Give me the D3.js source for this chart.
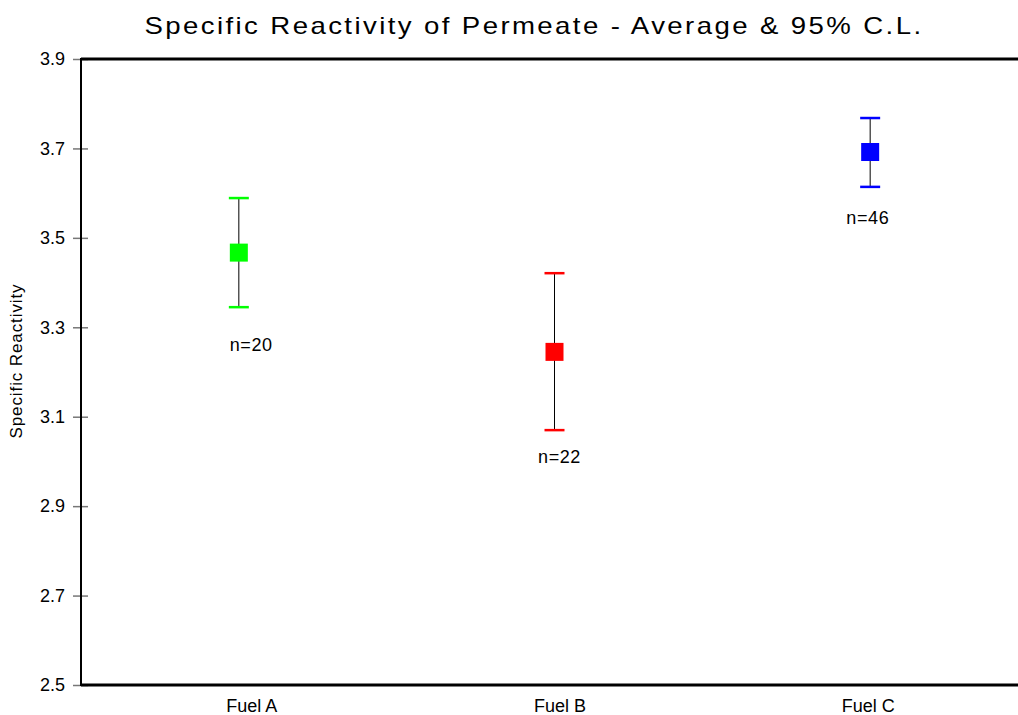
<!DOCTYPE html>
<html>
<head>
<meta charset="utf-8">
<script src="https://cdn.jsdelivr.net/npm/d3@7"></script>
<style>
  body { margin: 0; background: #fff; }
  svg { display: block; font-family: "Liberation Sans", Arial, sans-serif; }
</style>
</head>
<body>
<svg width="1018" height="715"></svg>
<script>
const categories = ['Fuel A', 'Fuel B', 'Fuel C'];
const means = [3.467, 3.245, 3.692];
const lower = [3.345, 3.070, 3.614];
const upper = [3.589, 3.421, 3.768];
const counts = [20, 22, 46];
const countLabelAt = [3.26, 3.01, 3.544];
const colors = ['#00ff00', '#ff0000', '#0000ff'];
const yTicks = [2.5, 2.7, 2.9, 3.1, 3.3, 3.5, 3.7, 3.9];

const plotLeft = 81, plotTop = 59, plotBottom = 685, plotRight = 1028;

const svg = d3.select('svg');

const x = d3.scalePoint()
  .domain(categories)
  .range([plotLeft, plotRight])
  .padding(0.5);

// the category labels sit slightly off the markers in the original
const xLabel = d3.scalePoint()
  .domain(categories)
  .range([97, 1022])
  .padding(0.5);

const y = d3.scaleLinear()
  .domain([2.5, 3.9])
  .range([plotBottom, plotTop]);

// title (wide glyphs, stretched a bit)
svg.append('text')
  .attr('transform', 'translate(534,34) scale(1.2,1)')
  .attr('text-anchor', 'middle')
  .style('font-size', '23px')
  .style('letter-spacing', '2px')
  .text('Specific Reactivity of Permeate - Average & 95% C.L.');

// y axis
const yAxis = svg.append('g')
  .attr('transform', `translate(${plotLeft},0)`)
  .call(d3.axisLeft(y).tickValues(yTicks).tickFormat(d3.format('.1f')).tickSizeInner(8).tickSizeOuter(0));
yAxis.select('.domain').remove();
yAxis.selectAll('.tick line').attr('x2', 7).attr('x1', -8).attr('stroke', '#777').attr('stroke-width', 1.5);
yAxis.selectAll('.tick text').attr('x', -16).style('font-size', '18px').attr('fill', '#000');

// frame
svg.append('line').attr('x1', plotLeft).attr('x2', plotLeft).attr('y1', plotTop - 1).attr('y2', plotBottom + 1)
  .attr('stroke', '#000').attr('stroke-width', 2);
svg.append('line').attr('x1', plotLeft).attr('x2', 1018).attr('y1', plotTop).attr('y2', plotTop)
  .attr('stroke', '#000').attr('stroke-width', 3);
svg.append('line').attr('x1', plotLeft).attr('x2', 1018).attr('y1', plotBottom).attr('y2', plotBottom)
  .attr('stroke', '#000').attr('stroke-width', 3);

// x axis labels
const xAxis = svg.append('g')
  .attr('transform', `translate(0,${plotBottom})`)
  .call(d3.axisBottom(xLabel).tickSize(0).tickPadding(14));
xAxis.select('.domain').remove();
xAxis.selectAll('.tick text').style('font-size', '18px').attr('fill', '#000');

// y title
svg.append('text')
  .attr('transform', 'translate(22,361) rotate(-90)')
  .attr('text-anchor', 'middle')
  .style('font-size', '17px')
  .style('letter-spacing', '0.9px')
  .text('Specific Reactivity');

const pts = categories.map((c, i) => ({ c, m: means[i], lo: lower[i], hi: upper[i], n: counts[i], ny: countLabelAt[i], col: colors[i] }));

const g = svg.append('g');
const item = g.selectAll('g.pt').data(pts).enter().append('g').attr('class', 'pt');

item.append('line')
  .attr('x1', d => x(d.c)).attr('x2', d => x(d.c))
  .attr('y1', d => y(d.hi)).attr('y2', d => y(d.lo))
  .attr('stroke', '#000').attr('stroke-width', 1);

item.selectAll('line.cap')
  .data(d => [{ c: d.c, v: d.hi, col: d.col }, { c: d.c, v: d.lo, col: d.col }])
  .enter().append('line')
  .attr('class', 'cap')
  .attr('x1', d => x(d.c) - 10).attr('x2', d => x(d.c) + 10)
  .attr('y1', d => y(d.v)).attr('y2', d => y(d.v))
  .attr('stroke', d => d.col).attr('stroke-width', 2.5);

item.append('rect')
  .attr('x', d => x(d.c) - 9).attr('y', d => y(d.m) - 9)
  .attr('width', 18).attr('height', 18)
  .attr('fill', d => d.col);

item.append('text')
  .attr('x', d => xLabel(d.c))
  .attr('y', d => y(d.ny))
  .attr('dy', '0.35em')
  .attr('text-anchor', 'middle')
  .style('font-size', '18px')
  .style('letter-spacing', '0.6px')
  .text(d => 'n=' + d.n);
</script>
</body>
</html>
